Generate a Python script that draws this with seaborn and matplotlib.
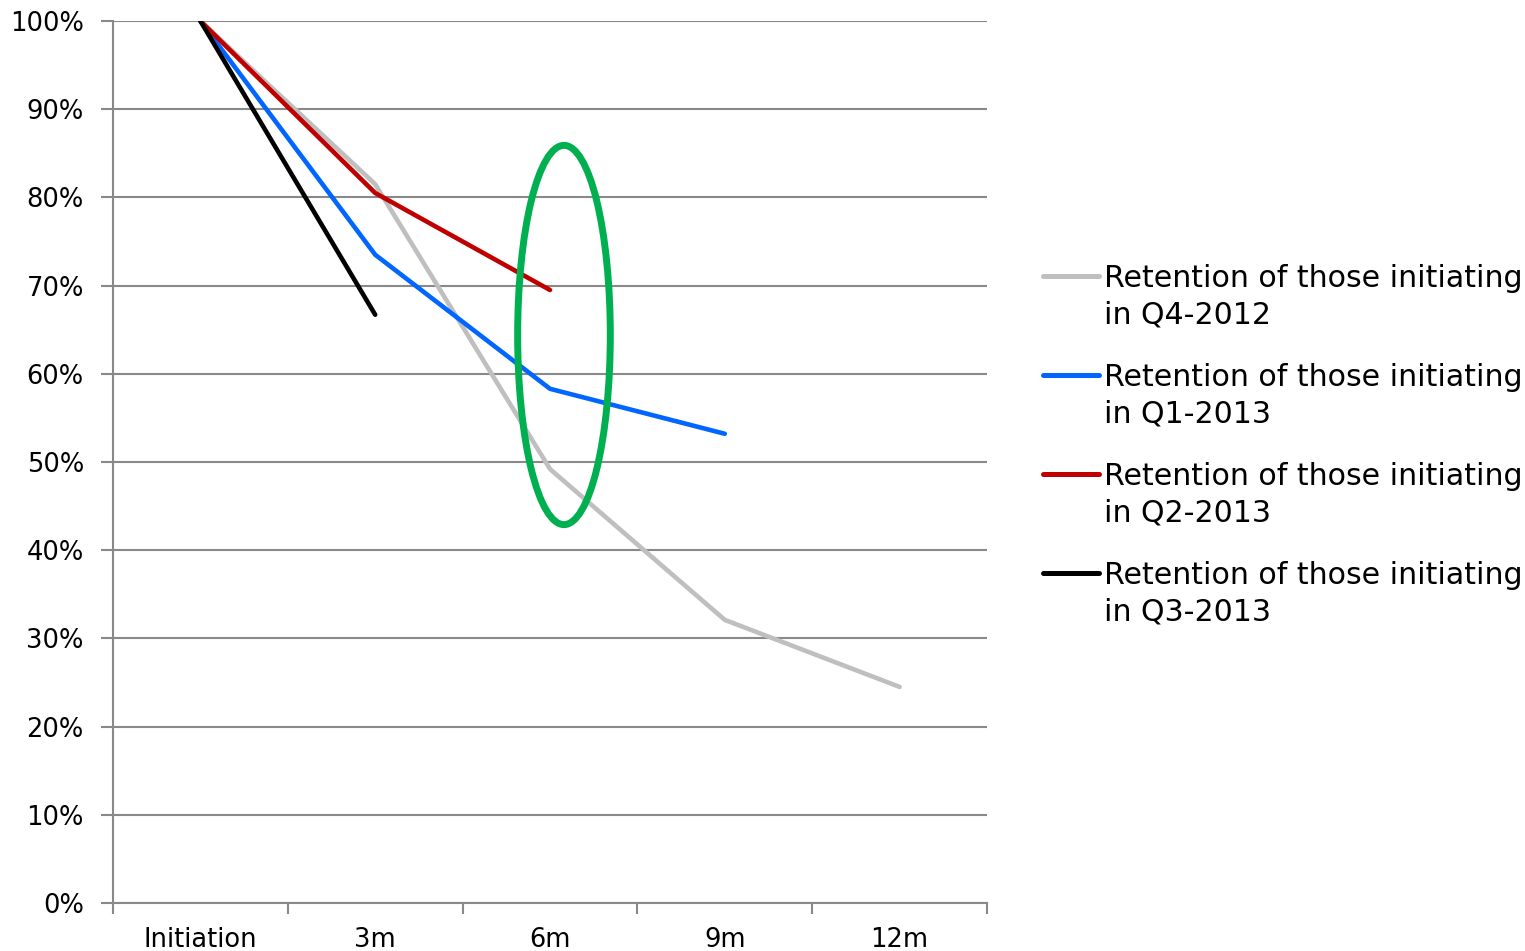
import numpy as np
import pandas as pd
import matplotlib
matplotlib.use("Agg")
import matplotlib.pyplot as plt
from matplotlib.patches import Ellipse
from matplotlib.legend_handler import HandlerLine2D
import seaborn as sns

categories = ["Initiation", "3m", "6m", "9m", "12m"]
q4_2012 = [100, 81.5, 49.2, 32.1, 24.5]
q1_2013 = [100, 73.5, 58.3, 53.2, np.nan]
q2_2013 = [100, 80.5, 69.5, np.nan, np.nan]
q3_2013 = [100, 66.7, np.nan, np.nan, np.nan]
series_names = [
    "Retention of those initiating\nin Q4-2012",
    "Retention of those initiating\nin Q1-2013",
    "Retention of those initiating\nin Q2-2013",
    "Retention of those initiating\nin Q3-2013",
]
series_values = [q4_2012, q1_2013, q2_2013, q3_2013]
colors = ["#BFBFBF", "#0066FF", "#C00000", "#000000"]

# highlight ellipse (annotation) in data coordinates
ellipse_center = (2.08, 64.4)
ellipse_width = 0.53
ellipse_height = 43.0

sns.set_theme(style="white")
plt.rcParams["font.family"] = ["DejaVu Sans"]

TICK_FS = 18.5
LEG_FS = 21.6


class TopLineHandler(HandlerLine2D):
    """Place the legend line at the first text line of a two-line label."""
    def create_artists(self, legend, orig_handle, xdescent, ydescent,
                       width, height, fontsize, trans):
        artists = super().create_artists(legend, orig_handle, xdescent, ydescent,
                                         width, height, fontsize, trans)
        shift = fontsize * 0.72
        for a in artists:
            y = np.asarray(a.get_ydata(), dtype=float)
            a.set_ydata(y + shift)
        return artists


rows = []
for name, vals in zip(series_names, series_values):
    for i, v in enumerate(vals):
        rows.append({"pos": i, "value": v, "series": name})
df = pd.DataFrame(rows)

fig = plt.figure(figsize=(15.25, 9.51), dpi=100)
ax = fig.add_axes([113 / 1525, 1 - 903 / 951, (987 - 113) / 1525, (903 - 21) / 951])

sns.lineplot(data=df.dropna(), x="pos", y="value", hue="series",
             hue_order=series_names, palette=colors, linewidth=3.3,
             ax=ax, legend=True, solid_capstyle="round", zorder=3)

ax.add_patch(Ellipse(ellipse_center, ellipse_width, ellipse_height,
                     fill=False, edgecolor="#00B050", linewidth=5, zorder=5))

ax.set_xlim(-0.5, len(categories) - 0.5)
ax.set_ylim(0, 100)
ax.set_yticks(np.arange(0, 101, 10))
ax.set_yticklabels([f"{v}%" for v in range(0, 101, 10)], fontsize=TICK_FS, color="#000000")
ax.set_xticks(np.arange(len(categories)))
ax.set_xticklabels(categories, fontsize=TICK_FS, color="#000000")
ax.set_xticks(np.arange(-0.5, len(categories), 1.0), minor=True)
ax.tick_params(axis="x", which="major", length=0, pad=17)
ax.tick_params(axis="x", which="minor", length=8, width=1.5, color="#898989", direction="out", bottom=True)
ax.tick_params(axis="y", length=9, width=1.5, color="#898989", direction="out", left=True, pad=12)
ax.set_xlabel("")
ax.set_ylabel("")
ax.grid(axis="y", color="#898989", linewidth=1.5)
ax.set_axisbelow(True)
for s in ["top", "right"]:
    ax.spines[s].set_visible(False)
for s in ["left", "bottom"]:
    ax.spines[s].set_color("#898989")
    ax.spines[s].set_linewidth(1.5)

handles, labels = ax.get_legend_handles_labels()
leg = ax.legend(handles, labels, loc="upper left",
                bbox_to_anchor=(1043 / 1525, 1 - 264 / 951),
                bbox_transform=fig.transFigure, frameon=False, fontsize=LEG_FS,
                labelcolor="#000000", handlelength=1.87, handletextpad=0.15,
                labelspacing=1.12, borderaxespad=0, borderpad=0,
                handler_map={h: TopLineHandler() for h in handles})
for t in leg.get_texts():
    t.set_linespacing(1.32)
for line in leg.get_lines():
    line.set_linewidth(3.6)

fig.savefig("out.png", dpi=100, facecolor="white")
